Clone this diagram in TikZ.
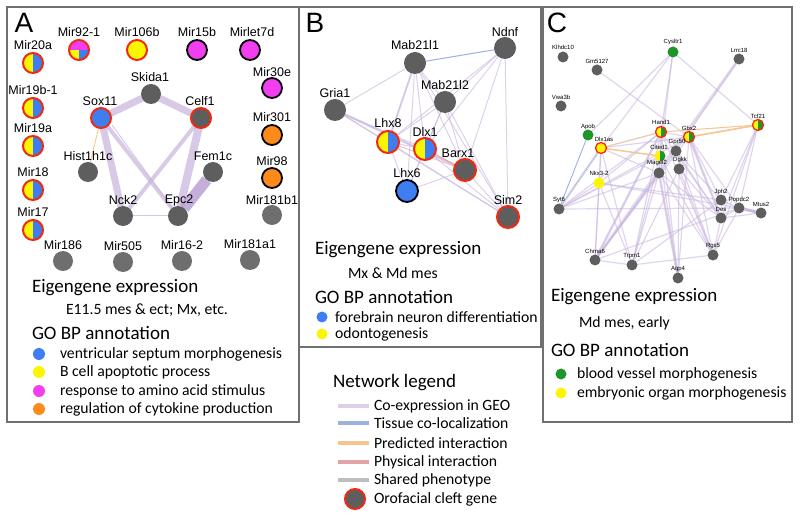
\documentclass[tikz,border=0pt]{standalone}
\usepackage{fontspec}
\setmainfont{Carlito}
\newfontfamily\arialf{Liberation Sans}
\pgfdeclarelayer{bg}
\pgfdeclarelayer{paper}
\pgfsetlayers{paper,bg,main}
\definecolor{cgray}{HTML}{5E5E5E}
\definecolor{cgrayl}{HTML}{6E6E6E}
\definecolor{cblue}{HTML}{3F7EF0}
\definecolor{cyel}{HTML}{FAF500}
\definecolor{cmag}{HTML}{F03EF0}
\definecolor{corange}{HTML}{FF8A1C}
\definecolor{cgreen}{HTML}{1E962A}
\definecolor{cred}{HTML}{F02A12}
\definecolor{cpanel}{HTML}{707070}
\definecolor{ccoex}{HTML}{C8B4DE}
\definecolor{ccoexd}{HTML}{B49CD0}
\definecolor{ctissue}{HTML}{9DB2E0}
\definecolor{cpred}{HTML}{F6C48C}
\definecolor{cphys}{HTML}{E5A2A4}
\definecolor{cshared}{HTML}{BDBDBD}
\definecolor{clegco}{HTML}{DCD0E8}
\tikzset{
  every node/.style={inner sep=0pt, outer sep=0pt},
  panel/.style={draw=cpanel, line width=1.1pt},
  letter/.style={font=\arialf\fontsize{28}{28}\selectfont},
  labA/.style={font=\arialf\fontsize{12.5}{12.5}\selectfont},
  labC/.style={font=\arialf\fontsize{6}{6}\selectfont},
  big/.style={font=\fontsize{19}{19}\selectfont, anchor=west},
  mid/.style={font=\fontsize{15.7}{15.7}\selectfont, anchor=west},
  pieYB/.style={path picture={\fill[cyel] (path picture bounding box.south west) rectangle (path picture bounding box.north); \fill[cblue] (path picture bounding box.south) rectangle (path picture bounding box.north east);}},
  pieYG/.style={path picture={\fill[cyel] (path picture bounding box.south west) rectangle (path picture bounding box.north); \fill[cgreen] (path picture bounding box.south) rectangle (path picture bounding box.north east);}},
  pieMYB/.style={path picture={\fill[cmag] (path picture bounding box.west) rectangle (path picture bounding box.north east); \fill[cyel] (path picture bounding box.south west) rectangle (path picture bounding box.center); \fill[cblue] (path picture bounding box.center) rectangle (path picture bounding box.south east);}},
  nA/.style={circle, minimum size=20pt},
  redb/.style={draw=cred, line width=2pt},
  blkb/.style={draw=black, line width=1.8pt},
  mYB/.style={nA, pieYB, redb},
  mMYB/.style={nA, pieMYB, redb},
  mY/.style={nA, fill=cyel, redb},
  mM/.style={nA, fill=cmag, blkb},
  mO/.style={nA, fill=corange, blkb},
  mG/.style={nA, fill=cgrayl},
  gA/.style={nA, fill=cgray},
  gAr/.style={nA, fill=cgray, redb},
  bAr/.style={nA, fill=cblue, redb},
  nB/.style={circle, minimum size=22pt},
  gB/.style={nB, fill=cgray},
  gBr/.style={nB, fill=cgray, redb},
  yBr/.style={nB, pieYB, redb},
  bBk/.style={nB, fill=cblue, blkb},
  nC/.style={circle, minimum size=11pt},
  gC/.style={nC, fill=cgray},
  grC/.style={nC, fill=cgreen},
  yC/.style={nC, fill=cyel},
  yCr/.style={nC, fill=cyel, draw=cred, line width=1.3pt},
  ygCr/.style={nC, pieYG, draw=cred, line width=1.3pt},
  ygC/.style={nC, pieYG},
  co/.style={draw=ccoex, opacity=0.7},
  coB/.style={draw=ccoex, opacity=0.6, line width=1pt},
  coC/.style={draw=ccoex, opacity=0.55, line width=1.2pt},
  dot/.style={circle, minimum size=12pt},
  legline/.style={line width=4pt},
}
\begin{document}
\begin{tikzpicture}[x=1pt,y=-1pt]
\useasboundingbox (0,0) rectangle (800,518);
\begin{pgfonlayer}{paper}
\fill[white] (0,0) rectangle (800,518);
\end{pgfonlayer}
% panels
\draw[panel] (7,7) rectangle (299,422);
\draw[panel] (299,7) rectangle (541,347);
\draw[panel] (543,7) rectangle (792,422);
\node[letter] (letA) at (24,23) {A};
\node[letter] (letB) at (315,23) {B};
\node[letter] (letC) at (557,23) {C};

% ---------- Panel A nodes ----------
\foreach \n/\s/\x/\y/\lx/\ly/\t in {
  mir20a/mYB/33/63/33/45/Mir20a,
  mir19b/mYB/33/108/33/90/Mir19b-1,
  mir19a/mYB/33/146/33/128/Mir19a,
  mir18/mYB/33/190/33/172/Mir18,
  mir17/mYB/33/230/33/212/Mir17,
  mir92/mMYB/79/50/79/32/Mir92-1,
  mir106b/mY/137/50/137/32/Mir106b,
  mir15b/mM/197/50/197/32/Mir15b,
  mirlet7d/mM/250/50/252/32/Mirlet7d,
  mir30e/mM/272/88/272/72/Mir30e,
  mir301/mO/272/135/272/117/Mir301,
  mir98/mO/272/178/272/161/Mir98,
  mir181b1/mG/272/215/272/200/Mir181b1,
  mir186/mG/63/261/63/245/Mir186,
  mir505/mG/123/262/123/246/Mir505,
  mir162/mG/182/261/182/245/Mir16-2,
  mir181a1/mG/250/260/250/244/Mir181a1,
  skida/gA/151/94/150/77/Skida1,
  sox/bAr/101/118/100/101/Sox11,
  celf/gAr/201/118/200/101/Celf1,
  hist/gA/88/172/88/156/Hist1h1c,
  fem/gA/213/172/213/156/Fem1c,
  nck/gA/123/216/123/200/Nck2,
  epc/gA/178/216/179/200/Epc2}
{ \node[\s] (\n) at (\x,\y) {};
  \node[labA] (\n-l) at (\lx,\ly) {\t}; }

\begin{pgfonlayer}{bg}
\draw[co, line width=7pt] (skida) -- (sox);
\draw[co, line width=7pt] (skida) -- (celf);
\draw[co, line width=7pt] (sox) -- (nck);
\draw[co, line width=4pt] (sox) -- (epc);
\draw[co, line width=1pt] ([xshift=4pt]sox.south east) -- (epc);
\draw[co, line width=4pt] (celf) -- (nck);
\draw[co, line width=8pt] (celf) -- (epc);
\draw[draw=ccoexd, opacity=0.8, line width=11pt] (fem) -- (epc);
\draw[co, line width=1pt] (nck) -- (epc);
\draw[draw=cpred, line width=0.8pt] (sox) -- (hist);
\end{pgfonlayer}

% A text
\node[big] (a-eig) at (32,288) {Eigengene expression};
\node[mid] (a-sub) at (66,310) {E11.5 mes \& ect; Mx, etc.};
\node[big] (a-go) at (32,333) {GO BP annotation};
\node[dot, fill=cblue] (a-d1) at (39,354) {};
\node[dot, fill=cyel] (a-d2) at (39,372) {};
\node[dot, fill=cmag] (a-d3) at (39,391) {};
\node[dot, fill=corange] (a-d4) at (39,409) {};
\node[mid] (a-t1) at (60,354) {ventricular septum morphogenesis};
\node[mid] (a-t2) at (60,372) {B cell apoptotic process};
\node[mid] (a-t3) at (60,391) {response to amino acid stimulus};
\node[mid] (a-t4) at (60,409) {regulation of cytokine production};

% ---------- Panel B ----------
\foreach \n/\s/\x/\y/\lx/\ly/\t in {
  ndnf/gB/505/48/505/32/Ndnf,
  mab1/gB/415/63/415/45/Mab21l1,
  mab2/gB/445/102/445/85/Mab21l2,
  gria/gB/335/110/335/93/Gria1,
  lhx8/yBr/388/142/388/123/Lhx8,
  dlx1/yBr/425/149/425/132/Dlx1,
  barx/gBr/465/170/458/153/Barx1,
  lhx6/bBk/407/191/407/173/Lhx6,
  sim2/gBr/508/217/508/200/Sim2}
{ \node[\s] (\n) at (\x,\y) {};
  \node[labA] (\n-l) at (\lx,\ly) {\t}; }

\begin{pgfonlayer}{bg}
\foreach \a/\b in {gria/mab1, gria/lhx8, gria/dlx1, gria/barx, gria/sim2,
  mab1/lhx8, mab1/dlx1, mab1/barx, mab1/sim2, mab1/lhx6, mab1/mab2,
  ndnf/mab2, ndnf/lhx8, ndnf/sim2, ndnf/dlx1, ndnf/barx,
  mab2/lhx8, mab2/lhx6, mab2/barx, mab2/sim2, mab2/dlx1,
  lhx8/dlx1, lhx8/lhx6, lhx8/sim2, dlx1/lhx6, lhx6/barx, barx/sim2, dlx1/sim2}
  \draw[coB] (\a) -- (\b);
\draw[coB, line width=2.5pt, opacity=0.5] (gria) -- (barx);
\draw[coB, line width=2pt, opacity=0.5] (mab1) -- (lhx8);
\draw[draw=ctissue, line width=1pt] (mab1) -- (ndnf);
\draw[draw=cphys, line width=1pt] (dlx1) -- (barx);
\draw[draw=cphys, line width=0.8pt, opacity=0.7] (lhx8) -- (barx);
\end{pgfonlayer}

\node[big] (b-eig) at (315,250) {Eigengene expression};
\node[mid] (b-sub) at (348,273) {Mx \& Md mes};
\node[big] (b-go) at (315,297) {GO BP annotation};
\node[dot, minimum size=11pt, fill=cblue] (b-d1) at (322,317) {};
\node[dot, minimum size=11pt, fill=cyel] (b-d2) at (322,334) {};
\node[mid] (b-t1) at (335,317) {forebrain neuron differentiation};
\node[mid] (b-t2) at (335,334) {odontogenesis};

% ---------- Network legend ----------
\node[big] (leg) at (333,383) {Network legend};
\coordinate (l1a) at (338,406); \coordinate (l1b) at (369,406);
\coordinate (l2a) at (338,423); \coordinate (l2b) at (369,423);
\coordinate (l3a) at (338,443); \coordinate (l3b) at (369,443);
\coordinate (l4a) at (338,462); \coordinate (l4b) at (369,462);
\coordinate (l5a) at (338,480); \coordinate (l5b) at (369,480);
\draw[legline, draw=clegco] (l1a) -- (l1b);
\draw[legline, draw=ctissue] (l2a) -- (l2b);
\draw[legline, draw=cpred] (l3a) -- (l3b);
\draw[legline, draw=cphys] (l4a) -- (l4b);
\draw[legline, draw=cshared] (l5a) -- (l5b);
\node[mid] (lt1) at (374,406) {Co-expression in GEO};
\node[mid] (lt2) at (374,423) {Tissue co-localization};
\node[mid] (lt3) at (374,443) {Predicted interaction};
\node[mid] (lt4) at (374,462) {Physical interaction};
\node[mid] (lt5) at (374,480) {Shared phenotype};
\node[nA, fill=cgray, redb] (lofc) at (355,499) {};
\node[mid] (lt6) at (374,499) {Orofacial cleft gene};

% ---------- Panel C ----------
\foreach \n/\s/\x/\y/\lx/\ly/\t in {
  klh/gC/563/57/563/47/Klhdc10,
  gm/gC/597/70/597/61/Gm5127,
  cys/grC/673/52/673/42/Cysltr1,
  lrr/gC/739/59/739/50/Lrrc18,
  vwa/gC/561/106/561/97/Vwa3b,
  tcf/ygCr/758/125/758/116/Tcf21,
  apob/grC/588/135/588/127/Apob,
  hand/ygCr/661/132/661/122/Hand1,
  gbx/ygCr/689/137/689/128/Gbx2,
  dlxas/yCr/601/148/604/139/Dlx1as,
  gpr/gC/676/151/677/142/Gpr50,
  cited/ygC/660/156/659/147/Cited1,
  magel/gC/659/173/657/163/Magel2,
  dgkk/gC/679/169/680/160/Dgkk,
  nkx/yC/599/183/599/173/Nkx3-2,
  syt/gC/559/209/559/200/Syt6,
  jph/gC/721/200/721/192/Jph2,
  pop/gC/739/208/739/200/Popdc2,
  des/gC/721/218/721/209/Des,
  mtus/gC/761/213/761/204/Mtus2,
  rgs/gC/713/255/713/246/Rgs5,
  chr/gC/595/260/595/251/Chrna6,
  trp/gC/632/265/632/256/Trpm1,
  aqp/gC/678/278/678/269/Aqp4}
{ \node[\s] (\n) at (\x,\y) {};
  \node[labC] (\n-l) at (\lx,\ly) {\t}; }

\begin{pgfonlayer}{bg}
\foreach \a/\b in {cys/apob, cys/dlxas, cys/hand, cys/cited, cys/tcf, gm/gbx, lrr/gpr,
  tcf/pop, tcf/des, tcf/rgs, tcf/jph,
  dlxas/hand, dlxas/gbx, dlxas/chr, dlxas/trp, dlxas/magel, dlxas/nkx,
  hand/chr, hand/trp, hand/aqp, hand/rgs, hand/des, hand/syt, hand/magel, hand/gbx,
  gbx/chr, gbx/aqp, gbx/rgs, gbx/des, gbx/jph, gbx/pop, gbx/syt,
  cited/trp, cited/aqp, cited/rgs, cited/syt,
  magel/chr, magel/aqp, magel/rgs, magel/des, magel/syt, magel/trp,
  gpr/des, gpr/jph, gpr/rgs, gpr/chr,
  dgkk/rgs, dgkk/des, dgkk/aqp, dgkk/trp,
  nkx/chr, nkx/trp, nkx/jph, nkx/pop, nkx/syt, nkx/hand,
  syt/pop, chr/trp, trp/rgs, chr/pop, trp/jph, des/pop, jph/pop, rgs/pop, des/rgs, des/mtus}
  \draw[coC] (\a) -- (\b);
\draw[coC, line width=3pt, opacity=0.5] (lrr) -- (chr);
\draw[coC, line width=2.5pt, opacity=0.45] (hand) -- (chr);
\draw[coC, line width=2.5pt, opacity=0.45] (dlxas) -- (syt);
\draw[coC, line width=2.5pt, opacity=0.45] (gbx) -- (des);
\draw[coC, line width=2.5pt, opacity=0.45] (magel) -- (aqp);
\draw[draw=ccoexd, opacity=0.7, line width=3pt] (pop) -- (mtus);
\draw[draw=ctissue, line width=0.9pt] (apob) -- (syt);
\draw[draw=ctissue, line width=0.8pt, opacity=0.7] (dlxas) -- (syt);
\draw[draw=cpred, line width=1.6pt] (tcf) -- (gbx);
\draw[draw=cpred, line width=1pt] (tcf) -- (hand);
\draw[draw=cpred, line width=1.4pt] (dlxas) -- (cited);
\draw[draw=cpred, line width=0.8pt, opacity=0.8] (dlxas) -- (hand);
\end{pgfonlayer}

\node[big] (c-eig) at (551,297) {Eigengene expression};
\node[mid] (c-sub) at (579,323) {Md mes, early};
\node[big] (c-go) at (551,350) {GO BP annotation};
\node[dot, minimum size=11pt, fill=cgreen] (c-d1) at (561,374) {};
\node[dot, minimum size=11pt, fill=cyel] (c-d2) at (561,393) {};
\node[mid] (c-t1) at (577,374) {blood vessel morphogenesis};
\node[mid] (c-t2) at (577,393) {embryonic organ morphogenesis};
\end{tikzpicture}
\end{document}
